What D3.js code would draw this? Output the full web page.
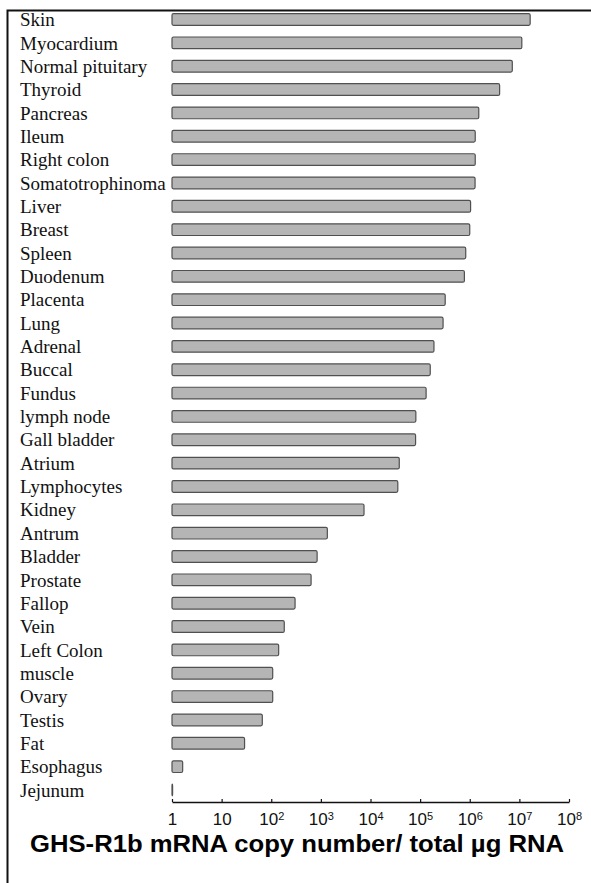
<!DOCTYPE html>
<html>
<head>
<meta charset="utf-8">
<script src="https://cdn.jsdelivr.net/npm/d3@7"></script>
<style>
  body { margin: 0; background: #fff; }
  svg { display: block; }
</style>
</head>
<body>
<div id="chart"></div>
<script>
// tissues, top to bottom
var tissues = ["Skin", "Myocardium", "Normal pituitary", "Thyroid", "Pancreas", "Ileum",
    "Right colon", "Somatotrophinoma", "Liver", "Breast", "Spleen", "Duodenum",
    "Placenta", "Lung", "Adrenal", "Buccal", "Fundus", "lymph node", "Gall bladder",
    "Atrium", "Lymphocytes", "Kidney", "Antrum", "Bladder", "Prostate", "Fallop",
    "Vein", "Left Colon", "muscle", "Ovary", "Testis", "Fat", "Esophagus", "Jejunum"];

// copy number / total ug RNA
var copies = [1.65e7, 1.12e7, 7.2e6, 4.0e6, 1.52e6, 1.29e6,
    1.29e6, 1.28e6, 1.04e6, 1.0e6, 8.3e5, 7.8e5,
    3.2e5, 2.9e5, 1.9e5, 1.6e5, 1.32e5, 8.2e4, 8.1e4,
    3.8e4, 3.55e4, 7.4e3, 1.35e3, 840, 635, 302,
    183, 141, 107, 107, 66, 29, 1.64, 1];

var tickExp = [0, 1, 2, 3, 4, 5, 6, 7, 8];
var xTitle = "GHS-R1b mRNA copy number/ total µg RNA";

var w = 591, h = 883;

var svg = d3.select("#chart")
    .append("svg")
    .attr("width", w)
    .attr("height", h);

// frame (left + top)
svg.append("path")
    .attr("d", "M7.5,883 V10.5 H591")
    .attr("fill", "none")
    .attr("stroke", "#111")
    .attr("stroke-width", 2);

var x = d3.scaleLog()
    .domain([1, 1e8])
    .range([172, 569]);

var y = d3.scaleBand()
    .domain(tissues)
    .range([2, 807.5])
    .padding(0.5);

var axisY = 802;

var data = tissues.map(function(t, i) { return {name: t, v: copies[i]}; });

// bars
svg.append("g")
  .selectAll("rect")
  .data(data)
  .enter().append("rect")
    .attr("x", x(1))
    .attr("y", function(d) { return y(d.name); })
    .attr("width", function(d) { return Math.max(x(d.v) - x(1), 0.6); })
    .attr("height", y.bandwidth())
    .attr("rx", 1.5)
    .attr("fill", "#b5b5b5")
    .attr("stroke", "#505050")
    .attr("stroke-width", 1.2);

// category labels
svg.append("g")
  .selectAll("text")
  .data(tissues)
  .enter().append("text")
    .attr("x", 20)
    .attr("y", function(d) { return y(d) + y.bandwidth() / 2; })
    .attr("dy", "0.35em")
    .attr("font-family", "'Liberation Serif', 'Times New Roman', serif")
    .attr("font-size", 19)
    .attr("fill", "#111")
    .text(function(d) { return d; });

// x axis
var ax = svg.append("g")
    .attr("transform", "translate(0," + axisY + ")")
    .call(d3.axisBottom(x)
        .tickValues(tickExp.map(function(e) { return Math.pow(10, e); }))
        .tickSizeInner(-3)
        .tickSizeOuter(0)
        .tickPadding(11)
        .tickFormat(""));

ax.select(".domain").attr("stroke", "#111").attr("stroke-width", 1.5);
ax.selectAll(".tick line").attr("stroke", "#111").attr("stroke-width", 1.2);

ax.selectAll(".tick text")
    .attr("font-family", "'Liberation Sans', Arial, sans-serif")
    .attr("font-size", 17)
    .attr("fill", "#111")
    .each(function(d, i) {
      var t = d3.select(this);
      var e = tickExp[i];
      if (e === 0) { t.text("1"); return; }
      if (e === 1) { t.text("10"); return; }
      t.append("tspan").text("10");
      t.append("tspan")
        .attr("dy", "-0.45em")
        .attr("font-size", 11)
        .text(e);
    });

// axis title
svg.append("text")
    .attr("x", 297)
    .attr("y", 852)
    .attr("text-anchor", "middle")
    .attr("font-family", "'Liberation Sans', Arial, sans-serif")
    .attr("font-weight", "bold")
    .attr("font-size", 23)
    .attr("textLength", 534)
    .attr("lengthAdjust", "spacingAndGlyphs")
    .attr("fill", "#000")
    .text(xTitle);
</script>
</body>
</html>
